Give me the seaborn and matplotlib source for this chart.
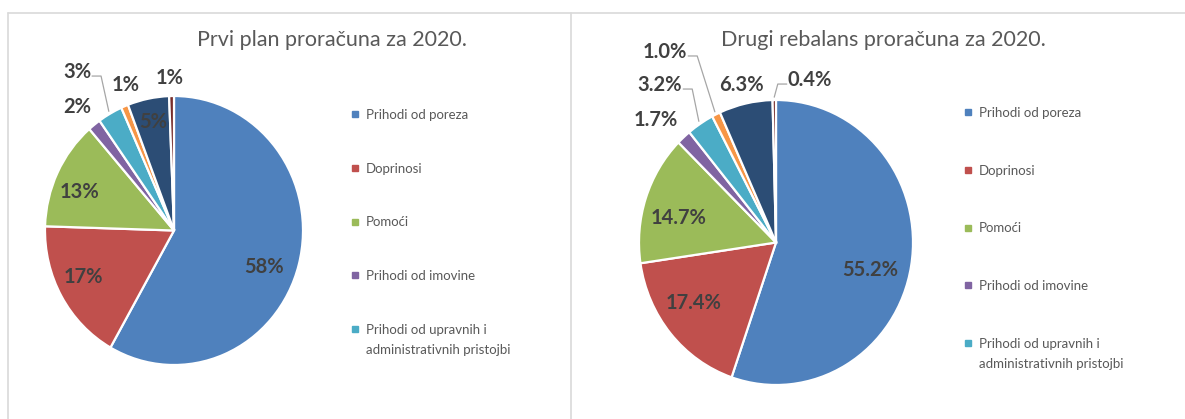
import numpy as np
import matplotlib
matplotlib.use("Agg")
import matplotlib.pyplot as plt
from matplotlib.lines import Line2D
import seaborn as sns

# ---------------- data ----------------
categories = [
    "Prihodi od poreza",
    "Doprinosi",
    "Pomoći",
    "Prihodi od imovine",
    "Prihodi od upravnih i administrativnih pristojbi",
    "Prihodi od prodaje proizvoda i usluga",
    "Ostali prihodi",
    "Prihodi od prodaje nefinancijske imovine",
]
plan_2020 = [58.2, 17.3, 13.1, 1.6, 3.1, 0.9, 5.2, 0.6]
rebalans_2020 = [55.2, 17.4, 14.7, 1.7, 3.2, 1.0, 6.3, 0.4]
titles = ["Prvi plan proračuna za 2020.", "Drugi rebalans proračuna za 2020."]
label_formats = ["{:.0f}%", "{:.1f}%"]
legend_shown = 5  # only first five categories appear in the legend

colors = ["#4F81BD", "#C0504D", "#9BBB59", "#8064A2", "#4BACC6",
          "#F79646", "#2C4D75", "#772C2A"]

# ---------------- style / layout ----------------
sns.set_theme(style="white")
plt.rcParams["font.family"] = ["Lato", "DejaVu Sans"]

W, H = 1185, 419
fig = plt.figure(figsize=(W / 100, H / 100), dpi=100)
fig.patch.set_facecolor("white")

TITLE_C = "#595959"
LABEL_C = "#404040"
LEG_FS = 9.5

panels = [
    dict(values=plan_2020, center=(174, 230.5), r=(129, 134.5), box=(20, 25, 340, 410),
         title_xy=(332, 40), legend_xy=(352, 109), labelspacing=3.16,
         label_pos=[(0.698, -0.271), (-0.705, -0.346), (-0.729, 0.286), (-0.752, 0.918),
                    (-0.752, 1.178), (-0.372, 1.082), (-0.163, 0.807), (-0.031, 1.134)],
         leaders=[4]),
    dict(values=rebalans_2020, center=(776, 242.5), r=(137, 142.5), box=(600, 25, 950, 410),
         title_xy=(883, 40), legend_xy=(965, 107), labelspacing=3.46,
         label_pos=[(0.686, -0.193), (-0.599, -0.425), (-0.708, 0.172), (-0.876, 0.860),
                    (-0.847, 1.105), (-0.810, 1.337), (-0.255, 1.105), (0.248, 1.140)],
         leaders=[4, 5, 7]),
]

for i, p in enumerate(panels):
    x0, y0, x1, y1 = p["box"]
    cx, cy = p["center"]
    rx, ry = p["r"]
    ax = fig.add_axes([x0 / W, 1 - y1 / H, (x1 - x0) / W, (y1 - y0) / H])
    wedges, _ = ax.pie(p["values"], colors=colors, startangle=90, counterclock=False,
                       radius=1, wedgeprops=dict(edgecolor="white", linewidth=1.6))
    ax.set_aspect("auto")
    ax.set_xlim((x0 - cx) / rx, (x1 - cx) / rx)
    ax.set_ylim((cy - y1) / ry, (cy - y0) / ry)
    ax.axis("off")

    texts = []
    for v, (lx, ly) in zip(p["values"], p["label_pos"]):
        t = ax.text(lx, ly, label_formats[i].format(v), ha="center", va="center",
                    fontsize=14.5, fontweight="bold", color=LABEL_C)
        texts.append(t)
    p["ax"], p["wedges"], p["texts"] = ax, wedges, texts

    fig.text(p["title_xy"][0] / W, 1 - p["title_xy"][1] / H, titles[i],
             ha="center", va="center", fontsize=15.5, color=TITLE_C)

    handles = [Line2D([], [], marker="s", markersize=5, linestyle="none",
                      color=c) for c in colors[:legend_shown]]
    labels = list(categories[:legend_shown])
    labels[-1] = "Prihodi od upravnih i"
    leg = fig.legend(handles, labels, loc="upper left",
                     bbox_to_anchor=(p["legend_xy"][0] / W, 1 - p["legend_xy"][1] / H),
                     frameon=False, fontsize=LEG_FS, labelspacing=p["labelspacing"],
                     handlelength=0.5, handletextpad=0.55, borderpad=0,
                     borderaxespad=0, labelcolor=TITLE_C)
    p["legend"] = leg

fig.canvas.draw()
renderer = fig.canvas.get_renderer()

for p in panels:
    ax = p["ax"]
    # second line of the wrapped legend entry
    t = p["legend"].get_texts()[-1]
    bb = t.get_window_extent(renderer)
    fig.text(bb.x0 / W, (bb.y0 - 20) / H, "administrativnih pristojbi",
             ha="left", va="bottom", fontsize=LEG_FS, color=TITLE_C)
    # leader lines
    inv = ax.transData.inverted()
    for idx in p["leaders"]:
        w = p["wedges"][idx]
        ang = np.deg2rad((w.theta1 + w.theta2) / 2)
        ex, ey = 1.02 * np.cos(ang), 1.02 * np.sin(ang)
        tb = p["texts"][idx].get_window_extent(renderer)
        edisp = ax.transData.transform((ex, ey))
        ymid = (tb.y0 + tb.y1) / 2 - 4
        if edisp[0] >= tb.x1:
            sx, kx = tb.x1 + 1, tb.x1 + 10
        else:
            sx, kx = tb.x0 - 1, tb.x0 - 10
        pts = inv.transform([(sx, ymid), (kx, ymid), tuple(edisp)])
        ax.plot(pts[:, 0], pts[:, 1], color="#A6A6A6", lw=0.9, clip_on=False)

# panel borders
bc = "#D9D9D9"
fig.add_artist(Line2D([8 / W, 1], [1 - 13 / H, 1 - 13 / H], color=bc, lw=1.2,
                      transform=fig.transFigure))
fig.add_artist(Line2D([8 / W, 8 / W], [0, 1 - 13 / H], color=bc, lw=1.2,
                      transform=fig.transFigure))
fig.add_artist(Line2D([571 / W, 571 / W], [0, 1 - 13 / H], color=bc, lw=1.2,
                      transform=fig.transFigure))

fig.savefig("out.png", dpi=100, facecolor="white")
